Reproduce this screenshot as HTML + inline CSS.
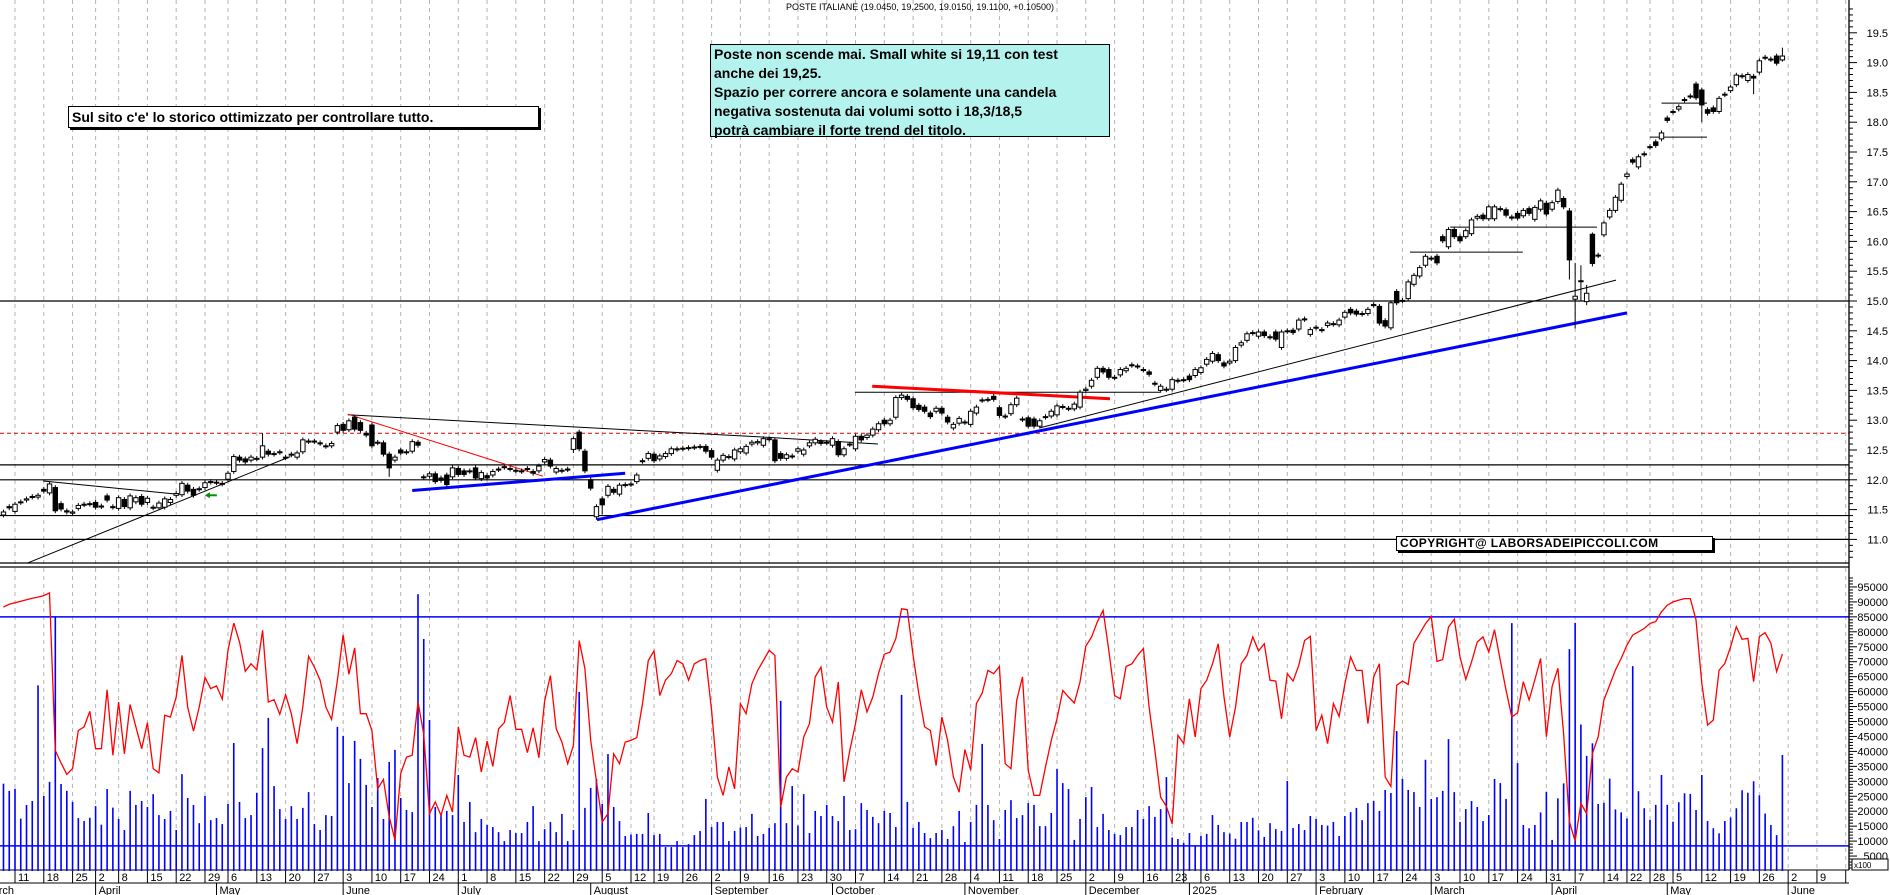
<!DOCTYPE html>
<html><head><meta charset="utf-8"><title>POSTE ITALIANE</title>
<style>
html,body{margin:0;padding:0;background:#fff;}
#wrap{position:relative;width:1890px;height:895px;overflow:hidden;background:#fff;font-family:"Liberation Sans",Arial,sans-serif;}
svg{position:absolute;left:0;top:0;}
.box{position:absolute;font-family:"Liberation Sans",Arial,sans-serif;font-weight:bold;color:#000;white-space:nowrap;}
</style></head>
<body>
<div id="wrap">
<svg id="chart" width="1890" height="895" viewBox="0 0 1890 895"></svg>
<div class="box" style="left:760px;top:2px;width:320px;text-align:center;font-weight:normal;font-size:9px;">POSTE ITALIANE (19.0450, 19.2500, 19.0150, 19.1100, +0.10500)</div>
<div class="box" style="left:710px;top:44px;width:395px;height:91px;background:#b4f2ee;border:1px solid #000;padding:0 0 0 3px;font-size:14px;line-height:19px;">Poste non scende mai. Small white si 19,11 con test<br>anche dei 19,25.<br>Spazio per correre ancora e solamente una candela<br>negativa sostenuta dai volumi sotto i 18,3/18,5<br>potrà cambiare il forte trend del titolo.</div>
<div class="box" style="left:68px;top:106px;width:466px;height:20px;background:#fff;border:1px solid #000;box-shadow:2px 2px 0 #000;padding-left:3px;font-size:14px;line-height:20px;">Sul sito c'e' lo storico ottimizzato per controllare tutto.</div>
<div class="box" style="left:1396px;top:536px;width:312px;height:13px;background:#fff;border:1px solid #000;box-shadow:2px 2px 0 #000;padding-left:3px;font-size:12px;line-height:13px;letter-spacing:0.4px;">COPYRIGHT@ LABORSADEIPICCOLI.COM</div>
</div>
<script>
const opens=[11.41,11.55,11.47,11.63,11.66,11.72,11.71,11.84,11.78,11.87,11.60,11.48,11.44,11.52,11.59,11.60,11.62,11.56,11.73,11.55,11.52,11.67,11.53,11.63,11.72,11.62,11.54,11.53,11.54,11.62,11.74,11.75,11.91,11.84,11.85,11.87,11.97,11.96,11.94,12.01,12.14,12.38,12.35,12.33,12.36,12.38,12.48,12.44,12.47,12.38,12.43,12.38,12.47,12.65,12.65,12.62,12.57,12.57,12.80,12.93,12.84,13.05,12.96,12.78,12.92,12.63,12.62,12.43,12.33,12.50,12.47,12.48,12.63,12.05,12.06,12.10,12.03,12.08,12.05,12.19,12.15,12.15,
12.20,12.02,12.07,12.08,12.18,12.22,12.19,12.16,12.15,12.19,12.14,12.15,12.30,12.33,12.13,12.16,12.18,12.51,12.80,12.48,12.00,11.38,11.68,11.74,11.84,11.76,11.92,11.92,11.97,12.32,12.36,12.43,12.35,12.39,12.44,12.52,12.52,12.54,12.55,12.56,12.56,12.49,12.16,12.33,12.39,12.35,12.47,12.45,12.60,12.62,12.58,12.69,12.67,12.44,12.36,12.40,12.48,12.43,12.57,12.62,12.64,12.63,12.58,12.64,12.42,12.60,12.52,12.73,12.71,12.75,12.84,13.00,12.94,13.05,13.38,13.40,13.36,13.25,13.22,13.12,13.15,13.20,
13.05,12.87,12.95,12.97,12.93,13.12,13.34,13.34,13.40,13.21,13.07,13.11,13.26,13.02,13.04,13.02,12.90,13.06,13.07,13.09,13.23,13.20,13.19,13.22,13.50,13.57,13.72,13.87,13.85,13.72,13.76,13.83,13.93,13.91,13.85,13.81,13.62,13.50,13.52,13.52,13.67,13.68,13.74,13.75,13.80,13.94,13.99,14.10,13.96,13.96,14.00,14.26,14.34,14.47,14.41,14.48,14.40,14.48,14.22,14.50,14.51,14.53,14.70,14.44,14.56,14.52,14.59,14.62,14.60,14.73,14.86,14.83,14.79,14.79,14.94,14.91,14.67,14.55,15.16,15.00,15.04,15.28,15.42,15.60,15.72,15.75,16.08,15.91,16.20,16.08,16.08,16.13,16.39,16.44,16.38,
16.38,16.55,16.53,16.41,16.47,16.43,16.55,16.37,16.54,16.64,16.54,16.67,16.72,16.51,15.03,15.34,14.99,16.12,15.77,16.11,16.41,16.52,16.69,17.09,17.37,17.25,17.47,17.59,17.67,17.72,18.07,18.18,18.22,18.38,18.44,18.64,18.54,18.21,18.24,18.18,18.47,18.53,18.63,18.78,18.70,18.77,18.84,19.09,19.06,19.11,19.045];
const closes=[11.46,11.53,11.59,11.62,11.68,11.71,11.74,11.81,11.93,11.48,11.51,11.46,11.46,11.57,11.58,11.59,11.54,11.55,11.66,11.54,11.70,11.55,11.73,11.70,11.59,11.69,11.53,11.61,11.68,11.67,11.77,11.94,11.81,11.74,11.84,11.95,11.96,11.95,11.93,12.11,12.39,12.33,12.30,12.38,12.35,12.57,12.43,12.43,12.46,12.37,12.42,12.45,12.67,12.64,12.64,12.61,12.56,12.61,12.91,12.83,12.99,12.85,12.83,12.75,12.57,12.62,12.43,12.20,12.38,12.45,12.46,12.64,12.58,12.04,12.10,11.97,11.99,11.92,12.20,12.09,12.09,12.14,
12.03,12.12,12.03,12.14,12.17,12.21,12.18,12.15,12.14,12.18,12.11,12.23,12.34,12.23,12.19,12.15,12.17,12.69,12.52,12.15,11.86,11.55,11.58,11.89,11.79,11.91,11.91,11.93,12.08,12.31,12.44,12.32,12.40,12.44,12.52,12.51,12.53,12.53,12.54,12.55,12.48,12.38,12.33,12.41,12.38,12.50,12.52,12.56,12.63,12.64,12.69,12.68,12.32,12.36,12.42,12.39,12.52,12.50,12.62,12.68,12.61,12.62,12.69,12.42,12.52,12.59,12.73,12.67,12.75,12.85,12.94,12.94,13.00,13.38,13.42,13.35,13.21,13.18,13.15,13.06,13.20,13.12,
12.97,12.93,13.03,12.96,13.15,13.22,13.33,13.35,13.35,13.08,13.06,13.26,13.37,13.01,12.90,12.90,12.99,13.05,13.15,13.24,13.22,13.19,13.27,13.47,13.52,13.67,13.87,13.81,13.72,13.71,13.85,13.87,13.92,13.90,13.84,13.77,13.61,13.57,13.51,13.68,13.66,13.67,13.68,13.85,13.88,14.02,14.12,14.00,13.91,13.99,14.22,14.30,14.45,14.46,14.48,14.42,14.39,14.36,14.48,14.49,14.47,14.68,14.69,14.52,14.55,14.51,14.63,14.61,14.68,14.81,14.80,14.78,14.78,14.86,14.93,14.63,14.58,14.97,14.97,15.01,15.32,15.43,15.56,15.75,15.71,15.64,16.01,16.20,16.08,16.01,16.18,16.36,16.42,16.38,16.58,
16.58,16.54,16.44,16.39,16.39,16.52,16.47,16.57,16.68,16.46,16.65,16.86,16.58,15.69,15.08,15.33,15.13,15.63,15.76,16.31,16.52,16.74,16.96,17.13,17.33,17.42,17.46,17.58,17.61,17.82,18.03,18.17,18.26,18.37,18.43,18.41,18.29,18.15,18.18,18.40,18.46,18.59,18.79,18.77,18.80,18.74,19.03,19.08,19.05,18.99,19.11];
const highMarks={6:11.97,43:12.78,59:13.08,270:16.56,271:15.64,272:15.60,273:15.27,274:16.15,307:19.25};
const lowMarks={7:11.44,65:12.05,97:12.45,101:11.33,102:11.42,270:15.36,271:14.54,272:15.00,273:14.93,274:15.58,293:18.00,302:18.47,307:19.015};
const volumes=[29.2,26.8,27.5,17.5,22.1,23.4,62.1,25.1,29.8,85.2,29.1,26.8,23.1,17.7,16.7,17.8,21.7,15.5,27.4,21.2,17.4,13.7,26.8,22.1,23.4,21.4,25.7,18.7,17.4,20.1,13.7,32.4,24.4,22.1,16.0,25.1,17.0,17.7,15.7,22.4,42.8,23.1,17.7,18.7,26.1,41.1,51.2,28.4,20.7,17.4,21.7,17.4,21.1,26.4,15.7,13.7,18.7,18.4,48.2,45.2,29.4,43.5,37.5,28.8,21.4,31.1,17.4,36.5,40.5,24.4,20.4,19.7,92.6,77.6,50.5,21.4,19.1,20.1,18.7,32.1,16.4,23.1,13.0,17.4,15.4,14.7,13.0,10.0,13.7,12.7,12.7,16.4,21.7,10.0,14.0,16.4,13.0,19.1,10.0,13.7,59.9,21.1,27.8,30.8,22.4,39.1,21.4,16.7,
11.7,12.2,12.4,12.4,19.4,12.0,12.4,8.0,8.0,10.0,8.0,9.0,12.0,13.4,24.1,14.7,16.4,16.4,10.0,13.4,14.5,14.7,19.1,11.7,12.4,14.4,16.0,56.9,16.0,28.4,15.2,25.7,12.7,20.1,18.4,22.1,18.4,16.7,25.1,13.7,14.0,22.7,20.4,18.1,16.0,20.1,19.4,14.7,58.9,23.1,14.4,16.4,12.7,11.0,12.7,13.7,10.7,15.0,20.1,9.7,16.4,22.1,42.5,22.1,17.0,10.7,20.4,23.7,17.7,18.7,22.7,22.1,15.0,15.0,19.4,34.1,29.4,27.4,10.4,17.4,24.7,28.1,14.7,19.1,13.7,12.4,12.0,14.7,14.7,20.4,17.4,21.7,18.1,20.7,31.4,11.2,10.7,9.4,12.7,8.5,11.7,12.4,18.7,15.4,13.0,
12.5,10.8,16.4,16.4,17.8,13.6,11.4,16.0,14.0,13.4,30.1,14.4,15.7,13.7,18.4,17.4,15.4,15.2,16.4,11.7,18.4,19.7,21.1,17.0,22.7,23.4,20.1,27.1,26.1,46.8,30.8,27.1,26.4,21.4,37.2,24.1,24.7,26.8,44.1,26.4,16.4,20.7,23.4,21.4,16.7,18.7,30.8,29.4,24.1,82.9,36.1,
15.4,14.3,15.4,19.6,26.5,10.4,24.3,29.3,74.2,83.0,49.0,38.5,42.7,22.4,22.8,30.9,20.6,19.6,17.6,68.5,26.7,21.0,17.1,22.1,32.1,22.1,16.5,23.0,26.0,25.8,20.4,32.1,16.7,14.3,12.6,16.7,17.9,21.0,27.0,26.2,30.0,25.3,19.2,15.4,12.0,38.8];
const oscillator=[88.3,89.2,89.7,90.2,90.7,91.2,91.6,92.1,93.0,40.3,36.1,32.3,34.3,47.0,48.2,53.4,40.9,40.9,60.6,38.7,56.5,39.2,55.7,48.2,40.9,49.6,34.2,32.8,52.1,51.5,58.2,72.1,54.8,46.8,54.8,64.7,61.0,61.9,57.5,73.8,82.9,76.6,66.8,69.3,67.3,80.5,56.5,57.3,52.4,59.0,52.6,42.6,54.8,71.8,68.2,63.8,54.8,50.7,63.8,79.0,65.8,74.6,52.6,52.6,47.0,27.5,30.6,18.1,10.3,32.6,38.1,38.7,56.5,45.9,19.2,23.1,18.6,25.3,19.7,48.2,38.7,38.1,44.6,33.1,43.4,35.0,47.6,49.6,58.7,47.4,47.4,39.6,47.9,37.9,56.8,65.4,47.6,43.1,35.9,42.0,77.1,67.7,43.7,29.8,16.4,19.2,39.2,35.9,
43.1,43.7,44.6,56.0,70.4,73.6,58.7,63.8,66.0,70.4,69.3,63.8,69.3,70.4,71.0,53.7,31.4,25.3,34.8,27.5,56.0,52.6,62.6,67.1,70.4,73.8,72.1,21.4,31.4,34.2,33.1,44.8,49.3,64.9,68.2,54.8,49.8,63.2,29.8,40.3,49.3,60.6,53.2,58.2,66.0,72.5,73.2,77.7,87.7,87.4,72.1,59.3,48.2,47.0,35.3,51.5,43.7,31.4,26.4,40.6,33.7,56.0,59.5,67.1,66.0,68.4,35.9,34.2,57.1,64.9,33.7,25.3,25.3,34.8,43.7,50.9,60.4,58.2,56.2,63.2,75.2,78.3,83.3,87.2,73.8,58.7,57.6,68.4,69.3,72.1,74.4,54.8,40.3,24.7,21.6,15.8,45.4,42.6,57.6,44.8,61.0,63.8,69.3,76.0,58.2,
44.8,54.8,69.3,72.1,78.3,73.6,76.0,63.8,63.5,50.9,66.0,63.5,68.8,77.1,78.5,47.0,52.1,42.6,56.0,51.7,62.6,71.6,67.1,67.1,49.3,64.9,69.3,31.4,28.3,62.1,63.5,62.4,76.2,79.4,82.7,85.2,70.1,70.7,81.6,84.2,71.6,64.1,69.9,76.6,78.3,73.2,80.7,70.4,60.4,51.5,52.9,
63.3,57.2,63.9,71.1,44.9,61.7,67.8,46.0,16.5,10.0,22.6,19.2,39.3,44.9,57.2,62.2,67.2,71.1,75.6,78.9,80.0,81.1,82.8,83.4,86.7,88.9,90.0,90.6,91.1,91.1,84.0,62.8,48.8,50.5,67.2,69.4,75.0,81.7,77.5,77.8,63.3,78.4,79.7,76.2,66.7,72.6];
const priceLevels=[15.0,12.25,12.0,11.4,11.0];
const redLevel=12.78;
const volumeLevels=[85,8.4];
const priceTicks=[11.0,11.5,12.0,12.5,13.0,13.5,14.0,14.5,15.0,15.5,16.0,16.5,17.0,17.5,18.0,18.5,19.0,19.5];
const volumeTicks=[5,10,15,20,25,30,35,40,45,50,55,60,65,70,75,80,85,90,95];
const monthNames=['January','February','March','April','May','June','July','August','September','October','November','December'];
const holidays=['2024-03-29','2024-04-01','2024-05-01','2024-08-15','2024-12-24','2024-12-25','2024-12-26','2024-12-31','2025-01-01','2025-04-18','2025-04-21','2025-05-01'];
const blackLines=[[[2.1,10.6],[47.8,12.39]],[[4.9,11.98],[28.1,11.76]],[[57.8,13.09],[129.4,12.72],[149.9,12.6]],[[178,12.87],[278.1,15.35]],[[145.9,13.47],[198.9,13.47]],[[242.3,15.82],[261.9,15.82]],[[249.3,16.24],[274.8,16.24]],[[286,18.32],[293.9,18.32]],[[284,17.75],[293.9,17.75]]];
const redThin=[[57.8,13.1],[91.7,12.06]];
const redThick=[[148.9,13.57],[190.2,13.36]];
const blueLines=[[[69,11.82],[106,12.11]],[[101.1,11.33],[280,14.8]]];

const NS='http://www.w3.org/2000/svg';
const svg=document.getElementById('chart');
const AX=1849;
const xS=i=>15+5.757*i;
const yP=p=>301-(p-15)*59.6;
const yV=v=>871-v*2.99;
const FIRST=-2;
function el(tag,attrs,parent){const e=document.createElementNS(NS,tag);for(const k in attrs)e.setAttribute(k,attrs[k]);(parent||svg).appendChild(e);return e;}
function grp(name){const g=el('g',{});return g;}

const days=[];let d=new Date(Date.UTC(2024,2,1));
while(d.getTime()<=Date.UTC(2025,5,20)){const wd=d.getUTCDay();const s=d.toISOString().slice(0,10);if(wd>0&&wd<6&&holidays.indexOf(s)<0)days.push(new Date(d.getTime()));d.setUTCDate(d.getUTCDate()+1);}
const OFF=6;

const gGrid=grp('week-gridlines');
const gAxis=grp('date-axis');
let prevWeek=null,prevMonth=null,lastLabelX=-100;
for(let k=0;k<days.length;k++){
  const i=k-OFF,x=xS(i),dt=days[k];
  const wk=dt.getTime()-((dt.getUTCDay()+6)%7)*864e5;
  if(wk!==prevWeek){prevWeek=wk;
    if(i>=0&&x<AX){
      const gl=el('line',{x1:x,y1:0,x2:x,y2:870,stroke:'#b4b4b4','stroke-width':1,'stroke-dasharray':'4,4'},gGrid);
      
      const t=el('line',{x1:x,y1:870,x2:x,y2:883,stroke:'#000','stroke-width':1},gAxis);
      
      if(x<AX-6&&x-lastLabelX>=16){lastLabelX=x;const tx=el('text',{x:x+3,y:881,'font-size':11,fill:'#000'},gAxis);tx.textContent=String(dt.getUTCDate());
      }
    }}
  const mk=dt.getUTCFullYear()*12+dt.getUTCMonth();
  if(mk!==prevMonth){prevMonth=mk;
    if(x<AX){
      const t=el('line',{x1:x,y1:883,x2:x,y2:895,stroke:'#000','stroke-width':1},gAxis);
      
      const name=dt.getUTCMonth()===0?String(dt.getUTCFullYear()):monthNames[dt.getUTCMonth()];
      const tx=el('text',{x:x+3,y:894,'font-size':11,fill:'#000'},gAxis);tx.textContent=name;
      
    }}
}
el('line',{x1:0,y1:870,x2:AX,y2:870,stroke:'#000','stroke-width':1},gAxis);
el('line',{x1:0,y1:883,x2:AX,y2:883,stroke:'#000','stroke-width':1},gAxis);

const gLev=grp('price-levels');
priceLevels.forEach(p=>{const l=el('line',{x1:0,y1:yP(p),x2:AX,y2:yP(p),stroke:'#000','stroke-width':1.2},gLev);});
const rl=el('line',{x1:0,y1:yP(redLevel),x2:AX,y2:yP(redLevel),stroke:'#e00000','stroke-width':1,'stroke-dasharray':'4,3'},gLev);

el('line',{x1:0,y1:563,x2:AX,y2:563,stroke:'#000','stroke-width':1.3});
el('line',{x1:0,y1:567,x2:AX,y2:567,stroke:'#000','stroke-width':1.3});

const gTr=grp('trendlines');
function pl(pts,color,w,name){const s=pts.map(q=>xS(q[0]).toFixed(1)+','+yP(q[1]).toFixed(1)).join(' ');const e=el('polyline',{points:s,fill:'none',stroke:color,'stroke-width':w},gTr);}
blackLines.forEach(l=>pl(l,'#000',1,'black-trendline'));
pl(redThin,'#f00',1,'red-trendline');
pl(redThick,'#f00',3,'red-resistance');
blueLines.forEach(l=>pl(l,'#0000ff',3,'blue-trendline'));
const arr=el('g',{},gTr);
el('line',{x1:xS(33.5),y1:yP(11.74),x2:xS(33.5)+9,y2:yP(11.74),stroke:'#009000','stroke-width':2},arr);
el('polygon',{points:`${xS(33.5)-3},${yP(11.74)} ${xS(33.5)+2},${yP(11.74)-3} ${xS(33.5)+2},${yP(11.74)+3}`,fill:'#009000'},arr);

const gC=grp('candlesticks');
for(let k=0;k<opens.length;k++){
  const i=k+FIRST,x=xS(i),o=opens[k],c=closes[k];
  const hi=highMarks[i]!==undefined?highMarks[i]:Math.max(o,c)+0.04;
  const lo=lowMarks[i]!==undefined?lowMarks[i]:Math.min(o,c)-0.04;
  const g=el('g',{},gC);
  
  
  el('line',{x1:x,y1:yP(hi),x2:x,y2:yP(lo),stroke:'#000','stroke-width':1},g);
  const top=yP(Math.max(o,c)),bot=yP(Math.min(o,c));
  const h=Math.max(bot-top,1);
  el('rect',{x:x-2.2,y:top,width:4.4,height:h,fill:c>=o?'#fff':'#000',stroke:'#000','stroke-width':1},g);
}

const gV=grp('volume-bars');
volumes.forEach((v,k)=>{const x=xS(k+FIRST);const b=el('line',{x1:x,y1:yV(0),x2:x,y2:yV(v),stroke:'#0000ff','stroke-width':1.6},gV);
});
volumeLevels.forEach(v=>{const l=el('line',{x1:0,y1:yV(v),x2:AX,y2:yV(v),stroke:'#0000ff','stroke-width':1.5});});
const osc=el('polyline',{points:oscillator.map((v,k)=>xS(k+FIRST).toFixed(1)+','+yV(v).toFixed(1)).join(' '),fill:'none',stroke:'#f00','stroke-width':1.3});



el('rect',{x:AX+0.5,y:0,width:1890-AX,height:895,fill:'#fff'});
const gY=grp('y-axis');
el('line',{x1:AX,y1:0,x2:AX,y2:870,stroke:'#000','stroke-width':1.3},gY);
for(let p=10.7;p<=19.95;p+=0.1){const y=yP(p);const maj=Math.abs(p*2-Math.round(p*2))<0.01;el('line',{x1:AX,y1:y,x2:AX+(maj?8:4),y2:y,stroke:'#000','stroke-width':1},gY);}
priceTicks.forEach(p=>{const t=el('text',{x:1888,y:yP(p)+4,'font-size':11,'text-anchor':'end',fill:'#000'},gY);t.textContent=p.toFixed(1);});
for(let v=1;v<=98;v+=1){const y=yV(v);const maj=v%5===0;el('line',{x1:AX,y1:y,x2:AX+(maj?8:4),y2:y,stroke:'#000','stroke-width':1},gY);}
volumeTicks.forEach(v=>{const t=el('text',{x:1888,y:yV(v)+4,'font-size':11,'text-anchor':'end',fill:'#000'},gY);t.textContent=String(v*1000);});
const ub=el('rect',{x:1852,y:859,width:36,height:11,fill:'#fff',stroke:'#000','stroke-width':1},gY);

const ut=el('text',{x:1854,y:868,'font-size':8,fill:'#000'},gY);ut.textContent='x100';

</script>
</body></html>
